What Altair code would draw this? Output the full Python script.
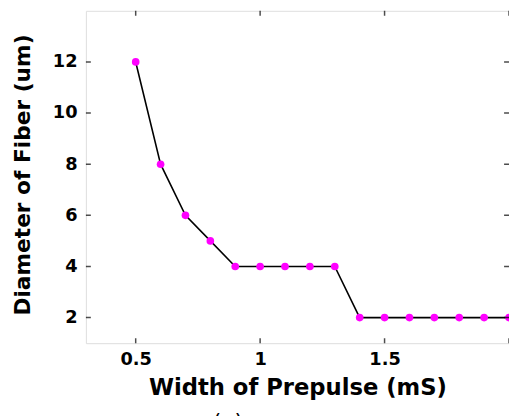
import altair as alt
import pandas as pd

# Data
width_ms = [0.5, 0.6, 0.7, 0.8, 0.9, 1.0, 1.1, 1.2, 1.3, 1.4, 1.5, 1.6, 1.7, 1.8, 1.9, 2.0]
diameter_um = [12, 8, 6, 5, 4, 4, 4, 4, 4, 2, 2, 2, 2, 2, 2, 2]
x_ticks = [0.5, 1.0, 1.5, 2.0]
y_ticks = [2, 4, 6, 8, 10, 12]

df = pd.DataFrame({"w": width_ms, "d": diameter_um})
xt = pd.DataFrame({"v": x_ticks})
yt = pd.DataFrame({"v": y_ticks})

W, H = 429, 337
FONT = "DejaVu Sans"

xscale = alt.Scale(domain=[0.3, 2.0], nice=False, zero=False)
yscale = alt.Scale(domain=[1, 14], nice=False, zero=False)

xaxis = alt.Axis(values=[0.5, 1, 1.5], format="~g", title="Width of Prepulse (mS)",
                 ticks=False, tickSize=0, domain=False, grid=False,
                 labelFont=FONT, labelFontSize=18, labelFontWeight="bold", labelColor="black",
                 labelPadding=8,
                 titleFont=FONT, titleFontSize=23, titleFontWeight="bold", titleColor="black",
                 titleBaseline="alphabetic", titleY=52)
yaxis = alt.Axis(values=y_ticks, title="Diameter of Fiber (um)",
                 ticks=False, tickSize=0, domain=False, grid=False,
                 labelFont=FONT, labelFontSize=18, labelFontWeight="bold", labelColor="black",
                 labelPadding=9,
                 titleFont=FONT, titleFontSize=22, titleFontWeight="bold", titleColor="black",
                 titleBaseline="middle", titleX=-64, titleY=166)

line = alt.Chart(df).mark_line(color="black", strokeWidth=1.6).encode(
    x=alt.X("w:Q", scale=xscale, axis=xaxis),
    y=alt.Y("d:Q", scale=yscale, axis=yaxis),
)
pts = alt.Chart(df).mark_point(filled=True, color="#FF00FF", size=60, opacity=1).encode(
    x="w:Q", y="d:Q"
)

tick_style = dict(color="black", thickness=1.5, size=10, clip=True)
xt_bottom = alt.Chart(xt).mark_tick(orient="vertical", **tick_style).encode(
    x="v:Q", y=alt.value(H))
xt_top = alt.Chart(xt).mark_tick(orient="vertical", **tick_style).encode(
    x="v:Q", y=alt.value(0))
yt_left = alt.Chart(yt).mark_tick(orient="horizontal", **tick_style).encode(
    y="v:Q", x=alt.value(0))
yt_right = alt.Chart(yt).mark_tick(orient="horizontal", **tick_style).encode(
    y="v:Q", x=alt.value(W))

label = alt.Chart(pd.DataFrame({"t": ["(a)"]})).mark_text(
    font=FONT, fontSize=22, color="black", baseline="top", align="center"
).encode(text="t:N", x=alt.value(144), y=alt.value(H + 70))

chart = alt.layer(line, pts, xt_bottom, xt_top, yt_left, yt_right, label).properties(
    width=W, height=H,
    autosize=alt.AutoSizeParams(type="none"),
    padding={"left": 79, "top": 0, "right": 0, "bottom": 71},
).configure_view(stroke="black", strokeWidth=2).configure(background="white")

chart.save("out.html", embed_options={"renderer": "svg", "actions": False})
